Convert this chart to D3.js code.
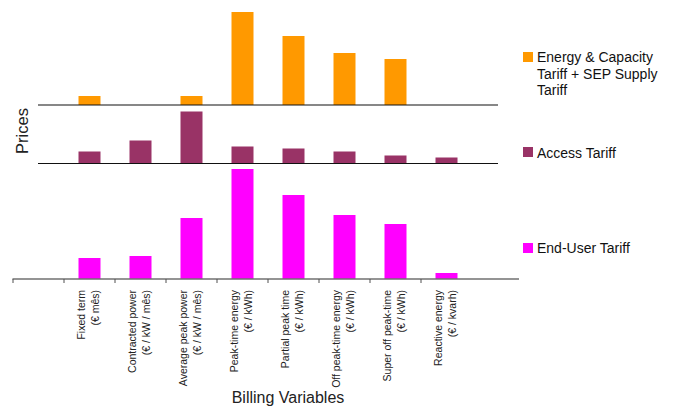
<!DOCTYPE html>
<html>
<head>
<meta charset="utf-8">
<script src="https://cdn.jsdelivr.net/npm/d3@7"></script>
<style>
  html, body { margin: 0; padding: 0; background: #fff; }
  svg { display: block; font-family: "Liberation Sans", Arial, sans-serif; }
</style>
</head>
<body>
<svg id="chart" width="678" height="410"></svg>
<script>
// ---- data ----
const categories = [
  ["Fixed term", "(€ mês)"],
  ["Contracted power", "(€ / kW / mês)"],
  ["Average peak power", "(€ / kW / mês)"],
  ["Peak-time energy", "(€ / kWh)"],
  ["Partial peak time", "(€ / kWh)"],
  ["Off peak-time energy", "(€ / kWh)"],
  ["Super off peak-time", "(€ / kWh)"],
  ["Reactive energy", "(€ / kvarh)"]
];
const seriesNames = ["Energy & Capacity Tariff + SEP Supply Tariff", "Access Tariff", "End-User Tariff"];
const energyCapacity = [9, 0, 9, 93, 69, 52, 46, 0];
const accessTariff   = [12, 23, 52, 17, 15, 12, 8, 6];
const endUserTariff  = [21, 23, 61, 110, 84, 64, 55, 6];
const colors = ["#FF9900", "#993366", "#FF00FF"];
const xTitle = "Billing Variables";
const yTitle = "Prices";

// ---- layout ----
const svg = d3.select("#chart");
const keys = categories.map((c, i) => "c" + i);
const domain = ["pre"].concat(keys).concat(["post"]);
const x = d3.scaleBand().domain(domain).range([13, 523]).padding(0);
const barW = 22;

const panels = [
  { values: energyCapacity, base: 105, color: colors[0] },
  { values: accessTariff,   base: 163.5, color: colors[1] },
  { values: endUserTariff,  base: 279, color: colors[2] }
];

panels.forEach((p, pi) => {
  const y = d3.scaleLinear().domain([0, 100]).range([p.base, p.base - 100]);
  const g = svg.append("g");
  g.selectAll("rect")
    .data(p.values.map((v, i) => ({ k: keys[i], v })))
    .join("rect")
    .filter(d => d.v > 0)
    .attr("x", d => x(d.k) + (x.bandwidth() - barW) / 2)
    .attr("width", barW)
    .attr("y", d => y(d.v))
    .attr("height", d => y(0) - y(d.v))
    .attr("fill", p.color);
  if (pi < 2) {
    g.append("line")
      .attr("x1", 38).attr("x2", 498)
      .attr("y1", y(0)).attr("y2", y(0))
      .attr("stroke", "#111").attr("stroke-width", 1.2);
  }
});

// bottom category axis
const axisY = 279;
const ax = svg.append("g");
ax.append("line")
  .attr("x1", 12.5).attr("x2", 519)
  .attr("y1", axisY).attr("y2", axisY)
  .attr("stroke", "#707070").attr("stroke-width", 1.6);
ax.selectAll("line.tick")
  .data(domain.slice(0, domain.length - 1))
  .join("line")
  .attr("class", "tick")
  .attr("x1", d => x(d)).attr("x2", d => x(d))
  .attr("y1", axisY).attr("y2", axisY + 4)
  .attr("stroke", "#505050").attr("stroke-width", 1);

// category labels (rotated)
const lab = ax.selectAll("g.lab")
  .data(categories.map((c, i) => ({ k: keys[i], lines: c })))
  .join("g")
  .attr("class", "lab")
  .attr("transform", d => `translate(${x(d.k) + x.bandwidth() / 2},290) rotate(-90)`);
lab.selectAll("text")
  .data(d => d.lines)
  .join("text")
  .attr("x", 0)
  .attr("y", (d, i) => i === 0 ? -4.5 : 9)
  .attr("text-anchor", "end")
  .attr("font-size", "10.5px")
  .attr("fill", "#222")
  .text(d => d);

// axis titles
svg.append("text")
  .attr("x", 288).attr("y", 403)
  .attr("text-anchor", "middle")
  .attr("font-size", "16px")
  .attr("fill", "#222")
  .text(xTitle);
svg.append("text")
  .attr("transform", "translate(28,131) rotate(-90)")
  .attr("text-anchor", "middle")
  .attr("font-size", "16.5px")
  .attr("fill", "#222")
  .text(yTitle);

// legend
const legendItems = [
  { lines: ["Energy & Capacity", "Tariff + SEP Supply", "Tariff"], color: colors[0], sy: 52, by: 62 },
  { lines: ["Access Tariff"], color: colors[1], sy: 147, by: 157.5 },
  { lines: ["End-User Tariff"], color: colors[2], sy: 243, by: 252.5 }
];
const lg = svg.append("g");
legendItems.forEach(it => {
  lg.append("rect").attr("x", 523).attr("y", it.sy).attr("width", 10).attr("height", 10).attr("fill", it.color);
  lg.append("text")
    .attr("font-size", "14px").attr("fill", "#111")
    .selectAll("tspan").data(it.lines).join("tspan")
    .attr("x", 537).attr("y", (d, i) => it.by + i * 16.7)
    .text(d => d);
});
</script>
</body>
</html>
